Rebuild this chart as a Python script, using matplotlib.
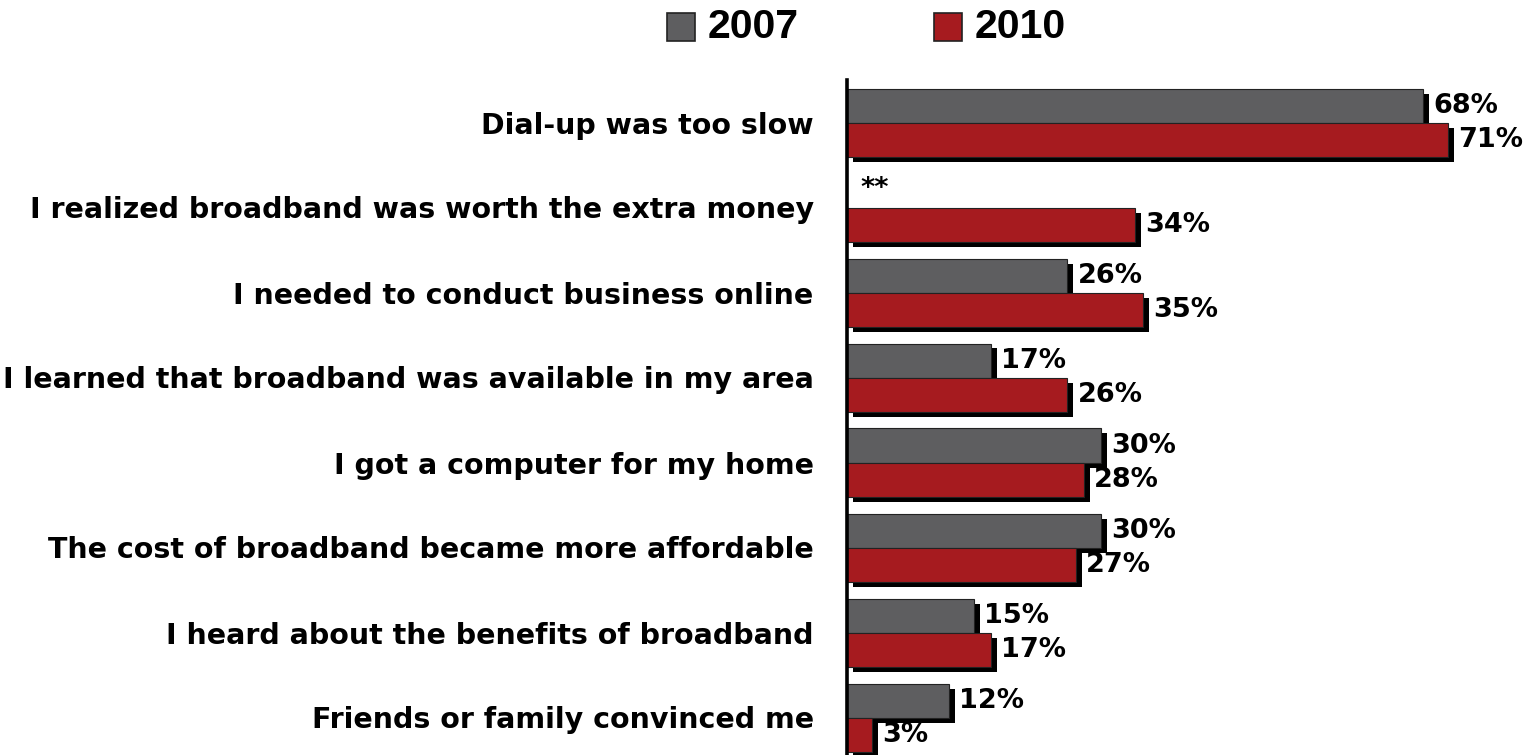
import numpy as np
import matplotlib
matplotlib.use("Agg")
import matplotlib.pyplot as plt
from matplotlib.patches import Rectangle

# the labels in the source are wide (stretched) – DejaVu Sans Bold matches their width
plt.rcParams['font.family'] = ['DejaVu Sans']
plt.rcParams['font.weight'] = 'bold'

categories = [
    "Dial-up was too slow",
    "I realized broadband was worth the extra money",
    "I needed to conduct business online",
    "I learned that broadband was available in my area",
    "I got a computer for my home",
    "The cost of broadband became more affordable",
    "I heard about the benefits of broadband",
    "Friends or family convinced me",
]
v2007 = [68, None, 26, 17, 30, 30, 15, 12]
v2010 = [71, 34, 35, 26, 28, 27, 17, 3]
series_names = ["2007", "2010"]

gray = '#5e5e60'
red = '#a61b1f'

W, H = 1530, 755
fig = plt.figure(figsize=(W / 100, H / 100), dpi=100)

# axes placed in pixel terms
left_px, top_px, bottom_px = 847, 80, 760
xmax = 80
px_per_unit = 8.47
ax = fig.add_axes([left_px / W, (H - bottom_px) / H,
                   xmax * px_per_unit / W, (bottom_px - top_px) / H])

n = len(categories)
pos = np.arange(n)
bh = 0.4
dx, dy = 6 / px_per_unit, 5 / 85.0

def draw(vals, offset, color):
    for i, v in enumerate(vals):
        if v is None:
            continue
        y = pos[i] + offset
        # drop shadow
        ax.barh(y + dy, v, height=bh, left=dx, color='black', zorder=2,
                clip_on=False)
        ax.barh(y, v, height=bh, color=color, edgecolor='#222222',
                linewidth=0.8, zorder=3, clip_on=False)
        ax.text(v + 1.2, y + 0.01, f"{v}%", ha='left', va='center',
                fontsize=19.5, fontweight='bold', zorder=4, clip_on=False)

draw(v2007, -0.2, gray)
draw(v2010, 0.2, red)

ax.text(1.6, 1 - 0.22, "**", ha='left', va='center', fontsize=19.5,
        fontweight='bold')

ax.set_xlim(0, xmax)
ax.set_ylim(n - 0.5, -0.5)
ax.set_yticks(pos)
ax.set_yticklabels(categories, fontsize=20.5, fontweight='bold')
ax.tick_params(axis='y', length=0, pad=24)
ax.set_xticks([])
for s in ['top', 'right', 'bottom']:
    ax.spines[s].set_visible(False)
ax.spines['left'].set_linewidth(2.6)
ax.spines['left'].set_zorder(5)

# legend drawn by hand at the top
for name, color, sx, tx in [(series_names[0], gray, 667, 708),
                            (series_names[1], red, 934, 975)]:
    fig.patches.append(Rectangle((sx / W, 1 - 41 / H), 28 / W, 28 / H,
                                 transform=fig.transFigure, facecolor=color,
                                 edgecolor='#222222', linewidth=1.2))
    fig.text(tx / W, 1 - 27 / H, name, ha='left', va='center',
             fontsize=29.5, fontweight='bold',
             family=['Liberation Sans', 'DejaVu Sans'])

fig.savefig('out.png', dpi=100)
